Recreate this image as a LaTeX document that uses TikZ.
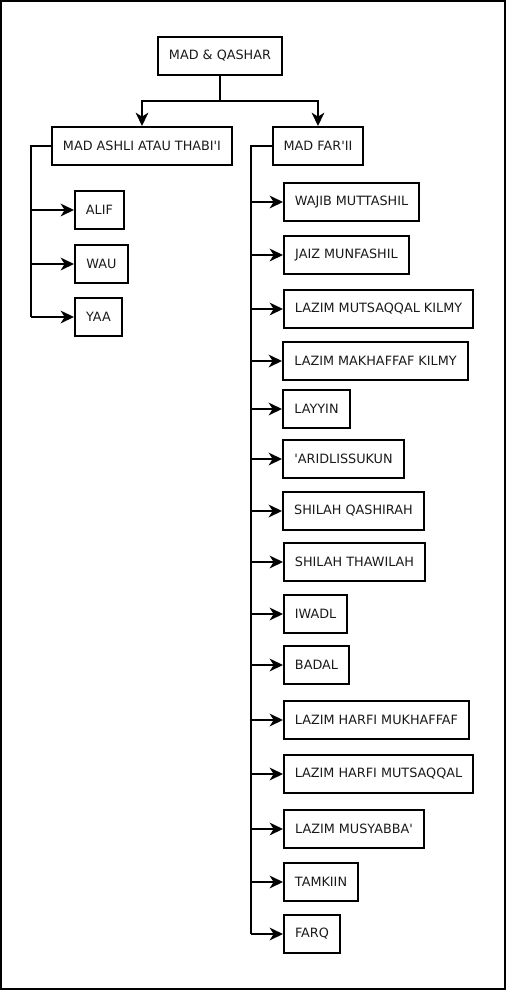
\documentclass[tikz,border=0pt]{standalone}
\usepackage{fontspec}
\newfontfamily\dv{DejaVu Sans}
\usetikzlibrary{arrows.meta}
\begin{document}
\begin{tikzpicture}[x=0.75pt,y=-0.75pt,
  box/.style={draw,line width=1.5pt,minimum height=28.5pt,inner sep=0pt,
    font=\dv\fontsize{9.6}{11}\selectfont,text=black!90},
  bw/.style={minimum width=#1*0.75pt},
  link/.style={line width=1.5pt,line join=miter},
  arr/.style={line width=1.5pt,-{Stealth[length=10pt,width=9.5pt,inset=3pt]}}]
\useasboundingbox (0,0) rectangle (506,990);
\draw[line width=1.5pt] (1,1) rectangle (505,989);
\node[box,bw=124] (root) at (220,56) {MAD \& QASHAR};
\node[box,bw=180] (ashli) at (142,146) {MAD ASHLI ATAU THABI'I};
\node[box,bw=90] (farii) at (318,146) {MAD FAR'II};
\coordinate (j) at (220,101);
\draw[link] (root.south) -- (j);
\draw[arr] (j) -| (ashli.north);
\draw[arr] (j) -| (farii.north);
% left children
\node[box,bw=49] (alif) at (99.5,210) {ALIF};
\node[box,bw=53] (wau) at (101.5,264) {WAU};
\node[box,bw=47] (yaa) at (98.5,317) {YAA};
\coordinate (lt) at (31,146);
\draw[link] (ashli.west) -- (lt) -- (lt |- yaa.west);
\draw[arr] (lt |- alif.west) -- (alif.west);
\draw[arr] (lt |- wau.west) -- (wau.west);
\draw[arr] (lt |- yaa.west) -- (yaa.west);
% right children
\node[box,bw=135] (r1) at (351.5,202) {WAJIB MUTTASHIL};
\node[box,bw=125] (r2) at (346.5,255) {JAIZ MUNFASHIL};
\node[box,bw=189] (r3) at (378.5,309) {LAZIM MUTSAQQAL KILMY};
\node[box,bw=185] (r4) at (375.5,361) {LAZIM MAKHAFFAF KILMY};
\node[box,bw=67] (r5) at (316.5,409) {LAYYIN};
\node[box,bw=121] (r6) at (343.5,459) {'ARIDLISSUKUN};
\node[box,bw=141] (r7) at (353.5,511) {SHILAH QASHIRAH};
\node[box,bw=141] (r8) at (354.5,562) {SHILAH THAWILAH};
\node[box,bw=63] (r9) at (315.5,614) {IWADL};
\node[box,bw=65] (r10) at (316.5,665) {BADAL};
\node[box,bw=185] (r11) at (376.5,720) {LAZIM HARFI MUKHAFFAF};
\node[box,bw=189] (r12) at (378.5,774) {LAZIM HARFI MUTSAQQAL};
\node[box,bw=140] (r13) at (354,829) {LAZIM MUSYABBA'};
\node[box,bw=74] (r14) at (321,882) {TAMKIIN};
\node[box,bw=56] (r15) at (312,934) {FARQ};
\coordinate (rt) at (251,146);
\draw[link] (farii.west) -- (rt) -- (rt |- r15.west);
\foreach \n in {r1,r2,r3,r4,r5,r6,r7,r8,r9,r10,r11,r12,r13,r14,r15}
  \draw[arr] (rt |- \n.west) -- (\n.west);
\end{tikzpicture}
\end{document}
